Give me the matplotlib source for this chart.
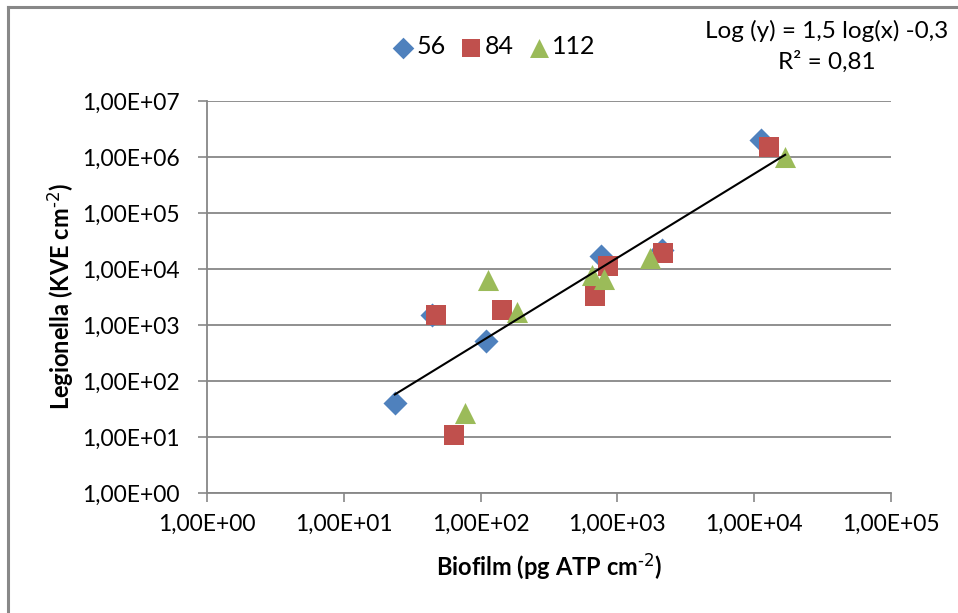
import matplotlib
matplotlib.use("Agg")
import matplotlib.pyplot as plt
import numpy as np
from matplotlib.lines import Line2D

plt.rcParams['font.family'] = ['Lato', 'DejaVu Sans']
plt.rcParams['mathtext.default'] = 'regular'

# Data (Biofilm pg ATP cm-2, Legionella KVE cm-2)
x56 = [23.6, 109, 44, 764, 2130, 11200]
y56 = [40.5, 518, 1500, 17000, 21900, 2.0e6]
x84 = [47.5, 63.8, 144, 687, 855, 2167, 12860]
y84 = [1510, 10.9, 1853, 3320, 11300, 19000, 1.53e6]
x112 = [113, 183, 77.3, 654, 795, 1722, 16830]
y112 = [6360, 1730, 26.5, 7810, 6550, 15500, 1.01e6]
slope, intercept = 1.5, -0.3
xticks = [1e0, 1e1, 1e2, 1e3, 1e4, 1e5]
yticks = [1e0, 1e1, 1e2, 1e3, 1e4, 1e5, 1e6, 1e7]
tick_fmt = ['1,00E+00', '1,00E+01', '1,00E+02', '1,00E+03', '1,00E+04', '1,00E+05']
ytick_fmt = ['1,00E+00', '1,00E+01', '1,00E+02', '1,00E+03', '1,00E+04', '1,00E+05', '1,00E+06', '1,00E+07']

W, H = 958, 613
fig = plt.figure(figsize=(W/100, H/100), dpi=100)
ax = fig.add_axes([207/W, 1-493/H, (891-207)/W, (493-101)/H])

gc = '#878787'
ax.set_xscale('log')
ax.set_yscale('log')
ax.set_xlim(1e0, 1e5)
ax.set_ylim(1e0, 1e7)
ax.set_xticks(xticks)
ax.set_xticklabels(tick_fmt)
ax.set_yticks(yticks)
ax.set_yticklabels(ytick_fmt)
ax.minorticks_off()
ax.tick_params(axis='both', labelsize=16.5, colors=gc, labelcolor='black', length=6.8, width=1.2, direction='out')
ax.tick_params(axis='x', pad=8)
ax.tick_params(axis='y', pad=13)
ax.grid(axis='y', color=gc, linewidth=1.3)
ax.set_axisbelow(True)
for s in ['top', 'right']:
    ax.spines[s].set_visible(False)
for s in ['left', 'bottom']:
    ax.spines[s].set_color(gc)
    ax.spines[s].set_linewidth(1.3)

ax.scatter(x56, y56, marker='D', s=150, color='#4F81BD', label='56', zorder=3, linewidths=0)
ax.scatter(x84, y84, marker='s', s=200, color='#C0504D', label='84', zorder=3, linewidths=0)
ax.scatter(x112, y112, marker='^', s=230, color='#9BBB59', label='112', zorder=3, linewidths=0)

allx = np.array(x56 + x84 + x112)
xt = np.array([allx.min(), allx.max()])
yt = 10 ** (slope * np.log10(xt) + intercept)
ax.plot(xt, yt, color='black', linewidth=1.5, zorder=4)

ax.set_xlabel(r'Biofilm (pg ATP cm$^{\text{-2}}$)', fontsize=17, fontweight='bold', labelpad=12)
ax.set_ylabel(r'Legionella (KVE cm$^{\text{-2}}$)', fontsize=17, fontweight='bold', labelpad=4)

leg = fig.legend(loc='center', bbox_to_anchor=(493/W, 1-47/H), ncol=3, frameon=False,
                 fontsize=18, handletextpad=0.05, columnspacing=0.5, handlelength=1.0,
                 markerscale=0.9)

fig.text(827/W, 1-31/H, 'Log (y) = 1,5 log(x) -0,3', fontsize=17.5, ha='center', va='center')
fig.text(827/W, 1-62/H, 'R² = 0,81', fontsize=17.5, ha='center', va='center')

fig.add_artist(Line2D([7.5/W, 7.5/W], [0, 1-6.5/H], transform=fig.transFigure,
                      color='#888888', linewidth=2.2))
fig.add_artist(Line2D([7.5/W, 1], [1-6.5/H, 1-6.5/H], transform=fig.transFigure,
                      color='#888888', linewidth=2.2))

fig.savefig('out.png', dpi=100)
